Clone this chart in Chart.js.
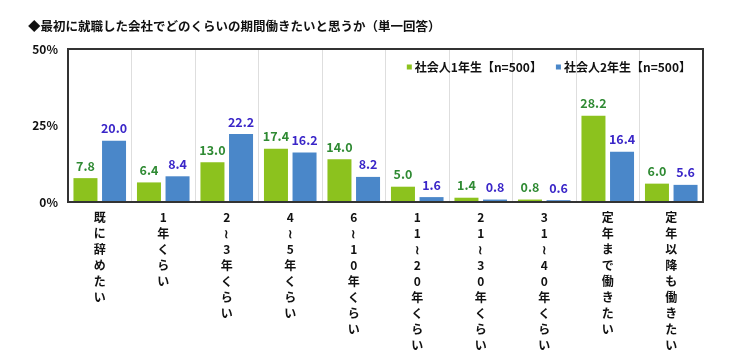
<!DOCTYPE html>
<html>
<head>
<meta charset="utf-8">
<script src="https://cdn.jsdelivr.net/npm/chart.js@4"></script>
<style>
  html, body { margin: 0; padding: 0; background: #fff; }
  #wrap { width: 733px; height: 362px; }
</style>
</head>
<body>
<div id="wrap"><canvas id="chart" width="733" height="362"></canvas></div>
<script>
var titleText = '◆最初に就職した会社でどのくらいの期間働きたいと思うか（単一回答）';
var categories = ['既に辞めたい', '1年くらい', '2～3年くらい', '4～5年くらい', '6～10年くらい',
  '11～20年くらい', '21～30年くらい', '31～40年くらい', '定年まで働きたい', '定年以降も働きたい'];
var seriesNames = ['社会人1年生【n=500】', '社会人2年生【n=500】'];
var year1 = [7.8, 6.4, 13.0, 17.4, 14.0, 5.0, 1.4, 0.8, 28.2, 6.0];
var year2 = [20.0, 8.4, 22.2, 16.2, 8.2, 1.6, 0.8, 0.6, 16.4, 5.6];
var yTicks = [0, 25, 50];

var FONT = "'Noto Sans CJK JP', 'Noto Sans', sans-serif";
var barColors = ['#8cc21e', '#4a87c9'];
var labelColors = ['#2f8a33', '#3a26c8'];

// value labels above each bar
var valueLabels = {
  id: 'valueLabels',
  afterDatasetsDraw: function (chart) {
    var ctx = chart.ctx;
    ctx.save();
    ctx.font = 'bold 12.5px ' + FONT;
    ctx.textAlign = 'center';
    ctx.textBaseline = 'bottom';
    chart.data.datasets.forEach(function (ds, i) {
      var meta = chart.getDatasetMeta(i);
      ctx.fillStyle = labelColors[i];
      meta.data.forEach(function (bar, j) {
        ctx.fillText(ds.data[j].toFixed(1), bar.x, bar.y - 6);
      });
    });
    ctx.restore();
  }
};

// legend drawn inside the top right of the plot area
var innerLegend = {
  id: 'innerLegend',
  afterDraw: function (chart) {
    var a = chart.chartArea;
    var ctx = chart.ctx;
    ctx.save();
    ctx.font = 'bold 12px ' + FONT;
    ctx.textBaseline = 'middle';
    ctx.textAlign = 'left';
    var y = a.top + 18;
    var box = 5, gapBox = 3, gapItem = 14;
    var widths = chart.data.datasets.map(function (ds) { return ctx.measureText(ds.label).width; });
    var total = 0;
    widths.forEach(function (w) { total += box + gapBox + w; });
    total += gapItem * (widths.length - 1);
    var x = a.right - 12 - total;
    chart.data.datasets.forEach(function (ds, i) {
      ctx.fillStyle = ds.backgroundColor;
      ctx.fillRect(x, y - box / 2, box, box);
      x += box + gapBox;
      ctx.fillStyle = '#111';
      ctx.fillText(ds.label, x, y);
      x += widths[i] + gapItem;
    });
    ctx.restore();
  }
};

// box round the plot area
var plotFrame = {
  id: 'plotFrame',
  afterDraw: function (chart) {
    var a = chart.chartArea;
    var ctx = chart.ctx;
    ctx.save();
    ctx.strokeStyle = '#333';
    ctx.lineWidth = 2;
    ctx.strokeRect(a.left, a.top, a.right - a.left, a.bottom - a.top);
    ctx.restore();
  }
};

var config = {
  type: 'bar',
  data: {
    labels: categories,
    datasets: [
      { label: seriesNames[0], data: year1, backgroundColor: barColors[0] },
      { label: seriesNames[1], data: year2, backgroundColor: barColors[1] }
    ]
  },
  options: {
    responsive: false,
    animation: false,
    layout: { padding: { left: 28, right: 30, top: 0, bottom: 0 } },
    datasets: {
      bar: { categoryPercentage: 0.9, barPercentage: 0.84 }
    },
    plugins: {
      title: {
        display: true,
        text: titleText,
        align: 'start',
        color: '#111',
        font: { family: FONT, size: 12.5, weight: 'bold', lineHeight: 1.2 },
        padding: { top: 19, bottom: 15 }
      },
      legend: { display: false },
      tooltip: { enabled: false }
    },
    scales: {
      x: {
        grid: { color: '#dedede', drawTicks: false, offset: true },
        border: { color: '#333', width: 2 },
        ticks: {
          autoSkip: false,
          maxRotation: 0,
          minRotation: 0,
          padding: 7,
          color: '#111',
          font: { family: FONT, size: 12, weight: 'bold', lineHeight: 1.34 },
          callback: function (v, i) {
            return categories[i].replace(/～/g, '≀').split('');
          }
        },
        afterFit: function (axis) { axis.height = 160; }
      },
      y: {
        min: 0,
        max: 50,
        grid: { display: false, drawTicks: false },
        border: { color: '#333', width: 2 },
        afterBuildTicks: function (axis) {
          axis.ticks = yTicks.map(function (v) { return { value: v }; });
        },
        ticks: {
          padding: 10,
          color: '#111',
          font: { family: FONT, size: 12, weight: 'bold' },
          callback: function (v) { return v + '%'; }
        },
        afterFit: function (axis) { axis.width = 40; }
      }
    }
  },
  plugins: [valueLabels, innerLegend, plotFrame]
};

new Chart(document.getElementById('chart').getContext('2d'), config);
</script>
</body>
</html>
